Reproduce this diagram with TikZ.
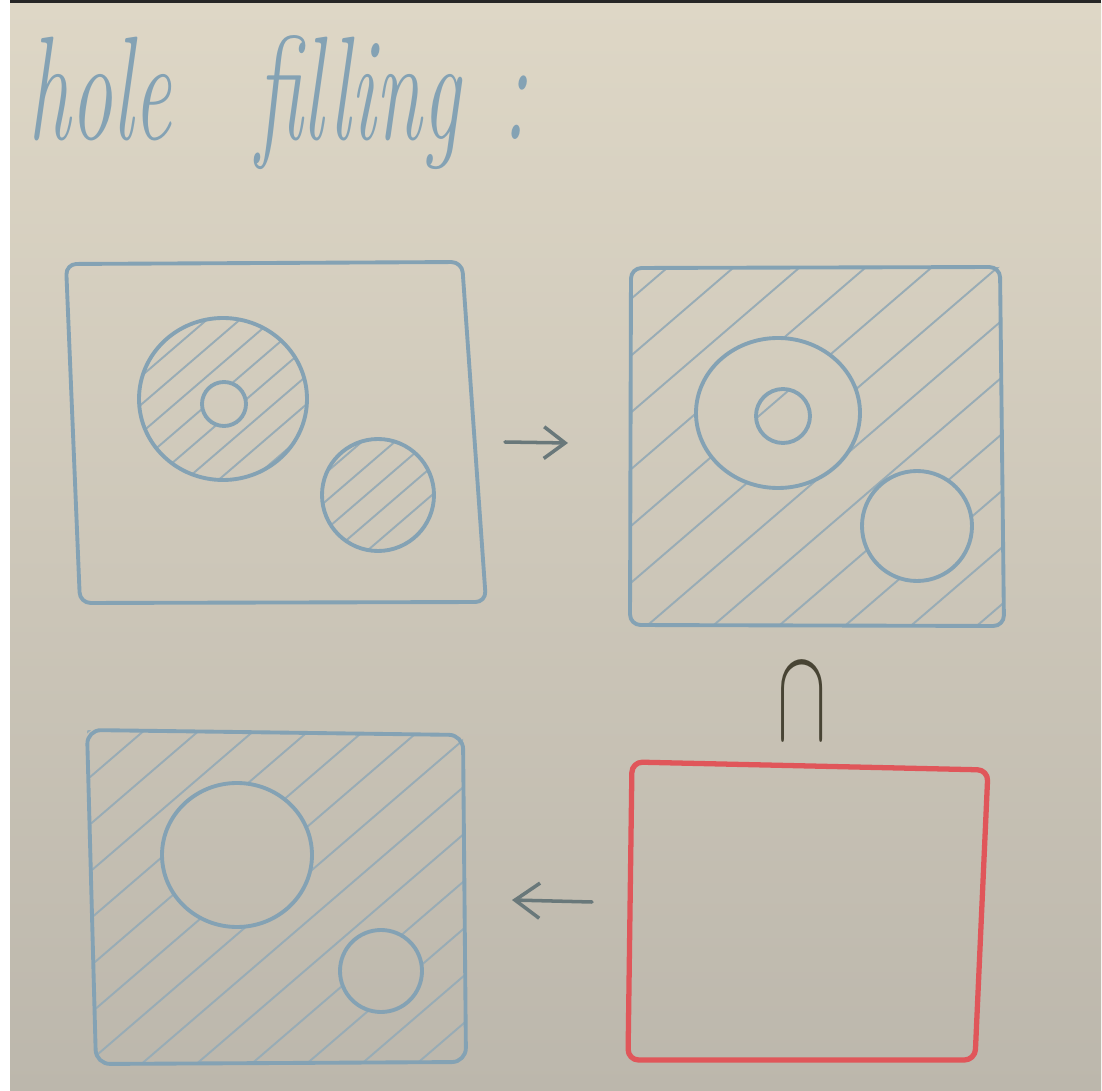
\documentclass[tikz,border=0pt]{standalone}
\usepackage{fontspec}
\usepackage{tikz}
\usetikzlibrary{arrows.meta}
\definecolor{marker}{RGB}{132,162,180}
\definecolor{hatchblue}{RGB}{152,172,182}
\definecolor{redmarker}{RGB}{224,86,90}
\definecolor{darkmarker}{RGB}{72,68,52}
\definecolor{boardtop}{RGB}{222,215,198}
\definecolor{boardbot}{RGB}{188,183,172}
\newcommand{\hatchlines}[2]{%
  \foreach \k in {-40,...,40}
    \draw[hatch] ({#1+(\k)*#2},1091) -- ++(1500,-1290);}

\begin{document}
\begin{tikzpicture}[x=.01cm,y=-.01cm,
  outline/.style={draw=marker,line width=1.1pt,line join=round,line cap=round},
  hatch/.style={draw=hatchblue,line width=.55pt,line cap=round},
  redline/.style={draw=redmarker,line width=1.5pt,line join=round},
  barb/.style={draw=darkmarker!45!marker,line width=1pt,line cap=round,
    -{Straight Barb[length=6pt,width=9pt]}}]
 \useasboundingbox (0,0) rectangle (1102,1091);
 \fill[white] (0,0) rectangle (1102,1091);
 \shade[top color=boardtop,bottom color=boardbot] (10,3) rectangle (1101,1091);
 \fill[black!85] (10,0) rectangle (1101,3);

 \node[anchor=base west,inner sep=0,text=marker,
   font=\fontsize{42}{46}\selectfont\itshape] (title) at (28,140)
   {\scalebox{.57}[1]{hole\hspace{1em}filling\hspace{.5em}:}};

 \begin{scope}[even odd rule]
  \clip (223,399) ellipse (84 and 81) (224,404) circle (22)
    (378,495) circle (56);
  \hatchlines{300}{33}
 \end{scope}
 \draw[outline,rounded corners=3] (66,264) -- (462,262) -- (486,602)
   -- (80,603) -- cycle;
 \draw[outline] (223,399) ellipse (84 and 81);
 \draw[outline] (224,404) circle (22);
 \draw[outline] (378,495) circle (56);

 \begin{scope}[even odd rule]
  \clip (631,268) -- (1000,267) -- (1004,626) -- (630,625)
    -- cycle (778,413) ellipse (82 and 75) (783,416) circle (27)
    (917,526) circle (55);
  \hatchlines{40}{66}
 \end{scope}
 \draw[outline,rounded corners=3] (631,268) -- (1000,267) -- (1004,626)
   -- (630,625) -- cycle;
 \draw[outline] (778,413) ellipse (82 and 75);
 \draw[outline] (783,416) circle (27);
 \draw[outline] (917,526) circle (55);

 \begin{scope}[even odd rule]
  \clip (87,730) -- (463,735) -- (466,1062) -- (96,1064)
    -- cycle (237,855) ellipse (75 and 72) (381,971) circle (41);
  \hatchlines{0}{55}
 \end{scope}
 \draw[outline,rounded corners=4] (87,730) -- (463,735) -- (466,1062)
   -- (96,1064) -- cycle;
 \draw[outline] (237,855) ellipse (75 and 72);
 \draw[outline] (381,971) circle (41);

 \draw[redline,rounded corners=3] (632,762) -- (988,770) -- (975,1060)
   -- (628,1060) -- cycle;

 \node[inner sep=0,text=darkmarker] (meet) at (802,702)
   {\scalebox{2.1}[3.8]{$\cap$}};

 \coordinate (fwdA) at (505,442);
 \coordinate (fwdB) at (568,443);
 \draw[barb] (fwdA) -- (fwdB);
 \coordinate (backA) at (592,902);
 \coordinate (backB) at (512,900);
 \draw[barb,-{Straight Barb[length=7pt,width=10pt]}] (backA) -- (backB);
\end{tikzpicture}
\end{document}
